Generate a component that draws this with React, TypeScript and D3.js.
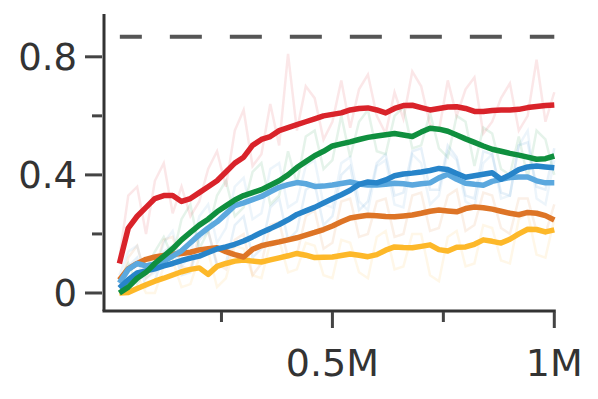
import * as d3 from 'd3';

// training steps in millions, shared by every run
const steps = [
  0.02, 0.04, 0.06, 0.08, 0.1, 0.12, 0.14, 0.16, 0.18, 0.2,
  0.22, 0.24, 0.26, 0.28, 0.3, 0.32, 0.34, 0.36, 0.38, 0.4,
  0.42, 0.44, 0.46, 0.48, 0.5, 0.52, 0.54, 0.56, 0.58, 0.6,
  0.62, 0.64, 0.66, 0.68, 0.7, 0.72, 0.74, 0.76, 0.78, 0.8,
  0.82, 0.84, 0.86, 0.88, 0.9, 0.92, 0.94, 0.96, 0.98, 1.0,
];

// smoothed curves
const redSmooth = [
  0.1, 0.22, 0.26, 0.29, 0.32, 0.33, 0.33, 0.31, 0.32, 0.34,
  0.36, 0.38, 0.41, 0.44, 0.46, 0.5, 0.52, 0.53, 0.55, 0.56,
  0.57, 0.58, 0.59, 0.6, 0.605, 0.61, 0.62, 0.625, 0.627, 0.62,
  0.61, 0.625, 0.635, 0.636, 0.628, 0.62, 0.625, 0.63, 0.631, 0.625,
  0.615, 0.615, 0.618, 0.62, 0.62, 0.622, 0.628, 0.632, 0.635, 0.637,
];
const greenSmooth = [
  0.0, 0.02, 0.05, 0.07, 0.1, 0.125, 0.15, 0.18, 0.205, 0.23,
  0.25, 0.275, 0.295, 0.315, 0.33, 0.34, 0.35, 0.365, 0.38, 0.4,
  0.425, 0.445, 0.465, 0.48, 0.498, 0.505, 0.512, 0.52, 0.527, 0.532,
  0.536, 0.54, 0.535, 0.53, 0.545, 0.558, 0.555, 0.548, 0.535, 0.522,
  0.51, 0.498, 0.487, 0.48, 0.473, 0.467, 0.46, 0.453, 0.455, 0.464,
];
const blueSmooth = [
  0.017, 0.045, 0.068, 0.075, 0.082, 0.092, 0.1, 0.11, 0.118, 0.125,
  0.137, 0.149, 0.156, 0.165, 0.176, 0.19, 0.205, 0.218, 0.232, 0.248,
  0.266, 0.278, 0.29, 0.305, 0.319, 0.333, 0.348, 0.368, 0.376, 0.373,
  0.383, 0.397, 0.403, 0.406, 0.41, 0.415, 0.422, 0.418, 0.405, 0.392,
  0.397, 0.402, 0.407, 0.385, 0.4, 0.418, 0.427, 0.43, 0.427, 0.424,
];
const lightBlueSmooth = [
  0.034, 0.08, 0.1, 0.092, 0.098, 0.108, 0.125, 0.143, 0.17, 0.197,
  0.22, 0.241, 0.268, 0.296, 0.305, 0.316, 0.327, 0.343, 0.358, 0.367,
  0.374, 0.37, 0.361, 0.362, 0.366, 0.371, 0.376, 0.369, 0.366, 0.366,
  0.368, 0.372, 0.37, 0.366, 0.37, 0.373, 0.39, 0.402, 0.385, 0.372,
  0.368, 0.365, 0.378, 0.385, 0.391, 0.393, 0.393, 0.38, 0.373, 0.373,
];
const orangeSmooth = [
  0.044, 0.082, 0.1, 0.114, 0.122, 0.127, 0.131, 0.134, 0.138, 0.146,
  0.15, 0.153, 0.14, 0.13, 0.122, 0.148, 0.16, 0.167, 0.173, 0.18,
  0.187, 0.196, 0.205, 0.215, 0.227, 0.241, 0.254, 0.259, 0.263, 0.262,
  0.259, 0.258, 0.261, 0.264, 0.27, 0.277, 0.281, 0.278, 0.275, 0.286,
  0.291, 0.289, 0.284, 0.277, 0.27, 0.265, 0.273, 0.27, 0.262, 0.247,
];
const yellowSmooth = [
  0.0, 0.002, 0.015, 0.028, 0.04, 0.05, 0.061, 0.072, 0.08, 0.085,
  0.063, 0.09, 0.1, 0.108, 0.112, 0.108, 0.105, 0.112, 0.119, 0.126,
  0.134, 0.128, 0.12, 0.121, 0.122, 0.127, 0.132, 0.128, 0.123, 0.13,
  0.145, 0.156, 0.154, 0.153, 0.158, 0.163, 0.147, 0.142, 0.155, 0.156,
  0.165, 0.18, 0.175, 0.169, 0.182, 0.2, 0.216, 0.215, 0.207, 0.214,
];

// raw (unsmoothed) curves, drawn faint underneath
const redRaw = [
  0.12, 0.33, 0.36, 0.2, 0.38, 0.44, 0.27, 0.36, 0.26, 0.31,
  0.42, 0.48, 0.36, 0.55, 0.62, 0.43, 0.47, 0.64, 0.5, 0.81,
  0.55, 0.7, 0.66, 0.52, 0.58, 0.72, 0.56, 0.69, 0.74, 0.6,
  0.54, 0.68, 0.59, 0.75, 0.7, 0.57, 0.55, 0.72, 0.6, 0.69,
  0.73, 0.54, 0.58, 0.66, 0.71, 0.55, 0.6, 0.79, 0.58, 0.68,
];
const greenRaw = [
  0.04, 0.1, 0.03, 0.08, 0.14, 0.19, 0.12, 0.25, 0.3, 0.15,
  0.21, 0.33, 0.38, 0.26, 0.29, 0.41, 0.44, 0.3, 0.33, 0.48,
  0.37, 0.53, 0.55, 0.42, 0.45, 0.6, 0.46, 0.58, 0.62, 0.48,
  0.47, 0.6, 0.63, 0.49, 0.5, 0.61, 0.49, 0.46, 0.6, 0.58,
  0.43, 0.56, 0.54, 0.42, 0.4, 0.53, 0.39, 0.55, 0.52, 0.4,
];
const blueRaw = [
  0.03, 0.09, 0.12, 0.02, 0.04, 0.14, 0.16, 0.06, 0.07, 0.18,
  0.21, 0.09, 0.1, 0.23, 0.26, 0.12, 0.15, 0.29, 0.32, 0.18,
  0.21, 0.35, 0.37, 0.23, 0.26, 0.4, 0.43, 0.28, 0.31, 0.44,
  0.47, 0.33, 0.34, 0.48, 0.49, 0.35, 0.35, 0.5, 0.46, 0.33,
  0.32, 0.48, 0.47, 0.34, 0.33, 0.5, 0.51, 0.36, 0.35, 0.49,
];
const lightBlueRaw = [
  0.06, 0.14, 0.16, 0.05, 0.07, 0.17, 0.21, 0.09, 0.13, 0.26,
  0.3, 0.17, 0.22, 0.36, 0.39, 0.25, 0.27, 0.42, 0.44, 0.29,
  0.31, 0.43, 0.45, 0.3, 0.29, 0.44, 0.46, 0.31, 0.28, 0.43,
  0.45, 0.3, 0.29, 0.47, 0.44, 0.3, 0.33, 0.48, 0.45, 0.31,
  0.29, 0.44, 0.47, 0.32, 0.33, 0.5, 0.55, 0.32, 0.3, 0.45,
];
const orangeRaw = [
  0.02, 0.12, 0.16, 0.05, 0.08, 0.18, 0.19, 0.09, 0.08, 0.2,
  0.21, 0.1, 0.08, 0.18, 0.2, 0.06, 0.1, 0.23, 0.24, 0.12,
  0.13, 0.26, 0.28, 0.15, 0.17, 0.31, 0.32, 0.19, 0.2, 0.31,
  0.32, 0.19, 0.2, 0.33, 0.34, 0.21, 0.22, 0.33, 0.35, 0.21,
  0.23, 0.34, 0.33, 0.22, 0.2, 0.32, 0.32, 0.21, 0.2, 0.3,
];
const yellowRaw = [
  0.0, 0.04, 0.06, 0.0, 0.0, 0.09, 0.11, 0.02, 0.03, 0.12,
  0.14, 0.02, 0.05, 0.16, 0.15, 0.06, 0.05, 0.17, 0.18, 0.07,
  0.08, 0.17, 0.16, 0.06, 0.05, 0.18, 0.17, 0.07, 0.05, 0.19,
  0.21, 0.08, 0.09, 0.2, 0.2, 0.06, 0.04, 0.19, 0.21, 0.09,
  0.1, 0.23, 0.22, 0.11, 0.1, 0.25, 0.27, 0.13, 0.12, 0.25,
];

// drawn bottom to top
const runs = [
  { color: '#fdb829', smooth: yellowSmooth, raw: yellowRaw },
  { color: '#dd7426', smooth: orangeSmooth, raw: orangeRaw },
  { color: '#5ba8de', smooth: lightBlueSmooth, raw: lightBlueRaw },
  { color: '#2784c9', smooth: blueSmooth, raw: blueRaw },
  { color: '#0f8f3e', smooth: greenSmooth, raw: greenRaw },
  { color: '#d9232a', smooth: redSmooth, raw: redRaw },
];

const yTicks = [0, 0.2, 0.4, 0.6, 0.8];
const yLabels = ['0', '', '0.4', '', '0.8'];
const xTicks = [0.25, 0.5, 0.75, 1.0];
const xLabels = ['', '0.5M', '', '1M'];
const optimum = 0.868;
const optimumStart = 0.021;

const W = 598;
const H = 399;
const FONT = 'DejaVu Sans, Verdana, sans-serif';

export default function App() {
  const x = d3.scaleLinear().domain([-0.0147, 1.0]).range([104, 554.3]);
  const y = d3.scaleLinear().domain([-0.061, 0.945]).range([311, 14]);

  const line = d3
    .line<number>()
    .x((_, i) => x(steps[i]))
    .y((d) => y(d));

  return (
    <svg
      width={W}
      height={H}
      style={{ position: 'absolute', left: 0, top: 0, background: '#fff' }}
      fontFamily={FONT}
    >
      {/* faint raw curves */}
      {runs.map((r) => (
        <path
          key={'raw' + r.color}
          d={line(r.raw) || ''}
          fill="none"
          stroke={r.color}
          strokeOpacity={0.11}
          strokeWidth={2.5}
        />
      ))}
      {runs.map((r) => (
        <path
          key={'sm' + r.color}
          d={line(r.smooth) || ''}
          fill="none"
          stroke={r.color}
          strokeWidth={5.5}
          strokeLinejoin="round"
        />
      ))}

      {/* optimum reference */}
      <line
        x1={x(optimumStart)}
        x2={x(1.0)}
        y1={y(optimum)}
        y2={y(optimum)}
        stroke="#555"
        strokeWidth={4}
        strokeDasharray="32 28"
        strokeDashoffset={10}
      />

      {/* axes */}
      <line x1={x.range()[0]} x2={x.range()[0]} y1={y.range()[1]} y2={y.range()[0]} stroke="#333" strokeWidth={3} />
      <line x1={x.range()[0] - 1.5} x2={x.range()[1] + 1.5} y1={y.range()[0]} y2={y.range()[0]} stroke="#333" strokeWidth={3} />

      {yTicks.map((t, i) => (
        <g key={'y' + t}>
          <line
            x1={x.range()[0] - 2}
            x2={x.range()[0] - (yLabels[i] ? 19 : 12)}
            y1={y(t)}
            y2={y(t)}
            stroke="#444"
            strokeWidth={3}
          />
          {yLabels[i] && (
            <text x={77} y={y(t) + 13.5} textAnchor="end" fontSize={37} fill="#333">
              {yLabels[i]}
            </text>
          )}
        </g>
      ))}

      {xTicks.map((t, i) => (
        <g key={'x' + t}>
          <line
            x1={x(t)}
            x2={x(t)}
            y1={y.range()[0] + 1}
            y2={y.range()[0] + (xLabels[i] ? 17 : 11)}
            stroke="#444"
            strokeWidth={3}
          />
          {xLabels[i] && (
            <text x={x(t)} y={376} textAnchor="middle" fontSize={38} fill="#333">
              {xLabels[i]}
            </text>
          )}
        </g>
      ))}
    </svg>
  );
}
